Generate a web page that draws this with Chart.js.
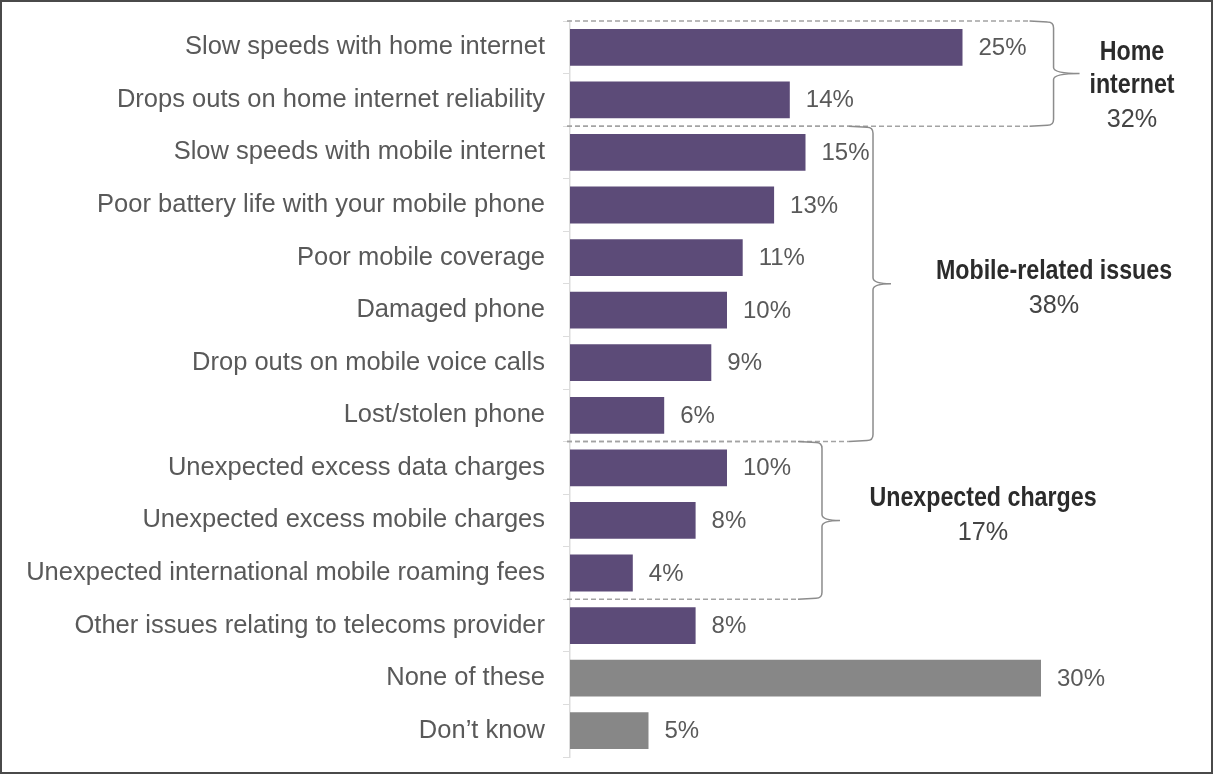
<!DOCTYPE html>
<html>
<head>
<meta charset="utf-8">
<script src="https://cdn.jsdelivr.net/npm/chart.js@4"></script>
<style>
  html, body { margin: 0; padding: 0; background: #fff; }
  #wrap { width: 1213px; height: 774px; position: relative; }
</style>
</head>
<body>
<div id="wrap"><canvas id="issuesChart" width="1213" height="774"></canvas></div>
<script>
const categories = [
    'Slow speeds with home internet',
    'Drops outs on home internet reliability',
    'Slow speeds with mobile internet',
    'Poor battery life with your mobile phone',
    'Poor mobile coverage',
    'Damaged phone',
    'Drop outs on mobile voice calls',
    'Lost/stolen phone',
    'Unexpected excess data charges',
    'Unexpected excess mobile charges',
    'Unexpected international mobile roaming fees',
    'Other issues relating to telecoms provider',
    'None of these',
    'Don\u2019t know'
];
const values = [25, 14, 15, 13, 11, 10, 9, 6, 10, 8, 4, 8, 30, 5];
const barColors = values.map((v, i) => i >= 12 ? '#878787' : '#5c4b78');

// Grouped totals shown beside the braces
const groupNames = [['Home', 'internet'], ['Mobile-related issues'], ['Unexpected charges']];
const groupTotals = ['32%', '38%', '17%'];
const groupFirst = [0, 2, 8];
const groupLast = [1, 7, 10];

const LABEL_FONT = '"Liberation Sans", Arial, sans-serif';
const GROUP_FONT = '"Liberation Sans", Arial, sans-serif';

// brace x (in % units on the value axis), caption centre (px), first line offset from brace middle
const braceAt = [30.8, 19.3, 16.05];
const captionX = [1132, 1054, 983];
const captionOffset = [-21, -12, -22];

const valueLabels = {
    id: 'valueLabels',
    afterDatasetsDraw(chart) {
        const ctx = chart.ctx;
        const meta = chart.getDatasetMeta(0);
        ctx.save();
        ctx.font = '24px ' + LABEL_FONT;
        ctx.fillStyle = '#595959';
        ctx.textBaseline = 'middle';
        ctx.textAlign = 'left';
        meta.data.forEach((bar, i) => {
            ctx.fillText(values[i] + '%', bar.x + 16, bar.y + 1);
        });
        ctx.restore();
    }
};

// condensed caption text: squeeze horizontally around its centre
function narrowText(ctx, text, cx, cy, squeeze) {
    ctx.save();
    ctx.translate(cx, cy);
    ctx.scale(squeeze, 1);
    ctx.fillText(text, 0, 0);
    ctx.restore();
}

const groupBraces = {
    id: 'groupBraces',
    afterDraw(chart) {
        const ctx = chart.ctx;
        const x = chart.scales.x, y = chart.scales.y;
        const step = y.getPixelForValue(1) - y.getPixelForValue(0);
        const left = chart.chartArea.left - 3;
        ctx.save();
        groupNames.forEach((name, g) => {
            const top = y.getPixelForValue(groupFirst[g]) - step / 2;
            const bot = y.getPixelForValue(groupLast[g]) + step / 2;
            const mid = (top + bot) / 2;
            const bx = x.getPixelForValue(braceAt[g]);
            const arm = 24, r = 6, tip = g === 0 ? 26 : 18;

            // dashed guides across the bars
            ctx.strokeStyle = '#a3a3a3';
            ctx.lineWidth = 1.5;
            ctx.setLineDash([5, 3]);
            ctx.beginPath();
            ctx.moveTo(left, top); ctx.lineTo(bx - arm, top);
            ctx.moveTo(left, bot); ctx.lineTo(bx - arm, bot);
            ctx.stroke();

            // the brace
            ctx.setLineDash([]);
            ctx.strokeStyle = '#8c8c8c';
            ctx.beginPath();
            ctx.moveTo(bx - arm, top);
            ctx.lineTo(bx - r, top + 1);
            ctx.quadraticCurveTo(bx, top + 1, bx, top + r + 1);
            ctx.lineTo(bx, mid - 6);
            ctx.quadraticCurveTo(bx, mid, bx + tip, mid);
            ctx.quadraticCurveTo(bx, mid, bx, mid + 6);
            ctx.lineTo(bx, bot - r - 1);
            ctx.quadraticCurveTo(bx, bot - 1, bx - r, bot - 1);
            ctx.lineTo(bx - arm, bot);
            ctx.stroke();

            // caption
            ctx.textAlign = 'center';
            ctx.textBaseline = 'middle';
            const lh = 33;
            const y0 = mid + captionOffset[g];
            ctx.fillStyle = '#2b2b2b';
            ctx.font = 'bold 27px ' + GROUP_FONT;
            name.forEach((t, k) => narrowText(ctx, t, captionX[g], y0 + k * lh, 0.86));
            ctx.fillStyle = '#444444';
            ctx.font = '26px ' + GROUP_FONT;
            narrowText(ctx, groupTotals[g], captionX[g], y0 + name.length * lh + 1, 0.97);
        });

        // frame round the figure
        ctx.strokeStyle = '#4a4a4a';
        ctx.lineWidth = 2;
        ctx.strokeRect(1, 1, chart.width - 2, chart.height - 2);
        ctx.restore();
    }
};

const ctx = document.getElementById('issuesChart').getContext('2d');
new Chart(ctx, {
    type: 'bar',
    data: {
        labels: categories,
        datasets: [{
            data: values,
            backgroundColor: barColors,
            categoryPercentage: 1,
            barPercentage: 0.7
        }]
    },
    options: {
        indexAxis: 'y',
        responsive: false,
        animation: false,
        layout: { padding: { left: 0, right: 15, top: 21, bottom: 17 } },
        plugins: {
            legend: { display: false },
            tooltip: { enabled: false }
        },
        scales: {
            x: {
                display: false,
                min: 0,
                max: 40
            },
            y: {
                afterFit(scale) {
                    scale.width = 570;
                    scale.paddingTop = 0;
                    scale.paddingBottom = 0;
                },
                grid: {
                    drawOnChartArea: false,
                    color: '#dcdcdc',
                    tickLength: 7,
                    offset: true
                },
                border: { display: true, color: '#dcdcdc', width: 1.5 },
                ticks: {
                    color: '#595959',
                    padding: 18,
                    font: { family: LABEL_FONT, size: 25.5 },
                    autoSkip: false
                }
            }
        }
    },
    plugins: [valueLabels, groupBraces]
});
</script>
</body>
</html>
